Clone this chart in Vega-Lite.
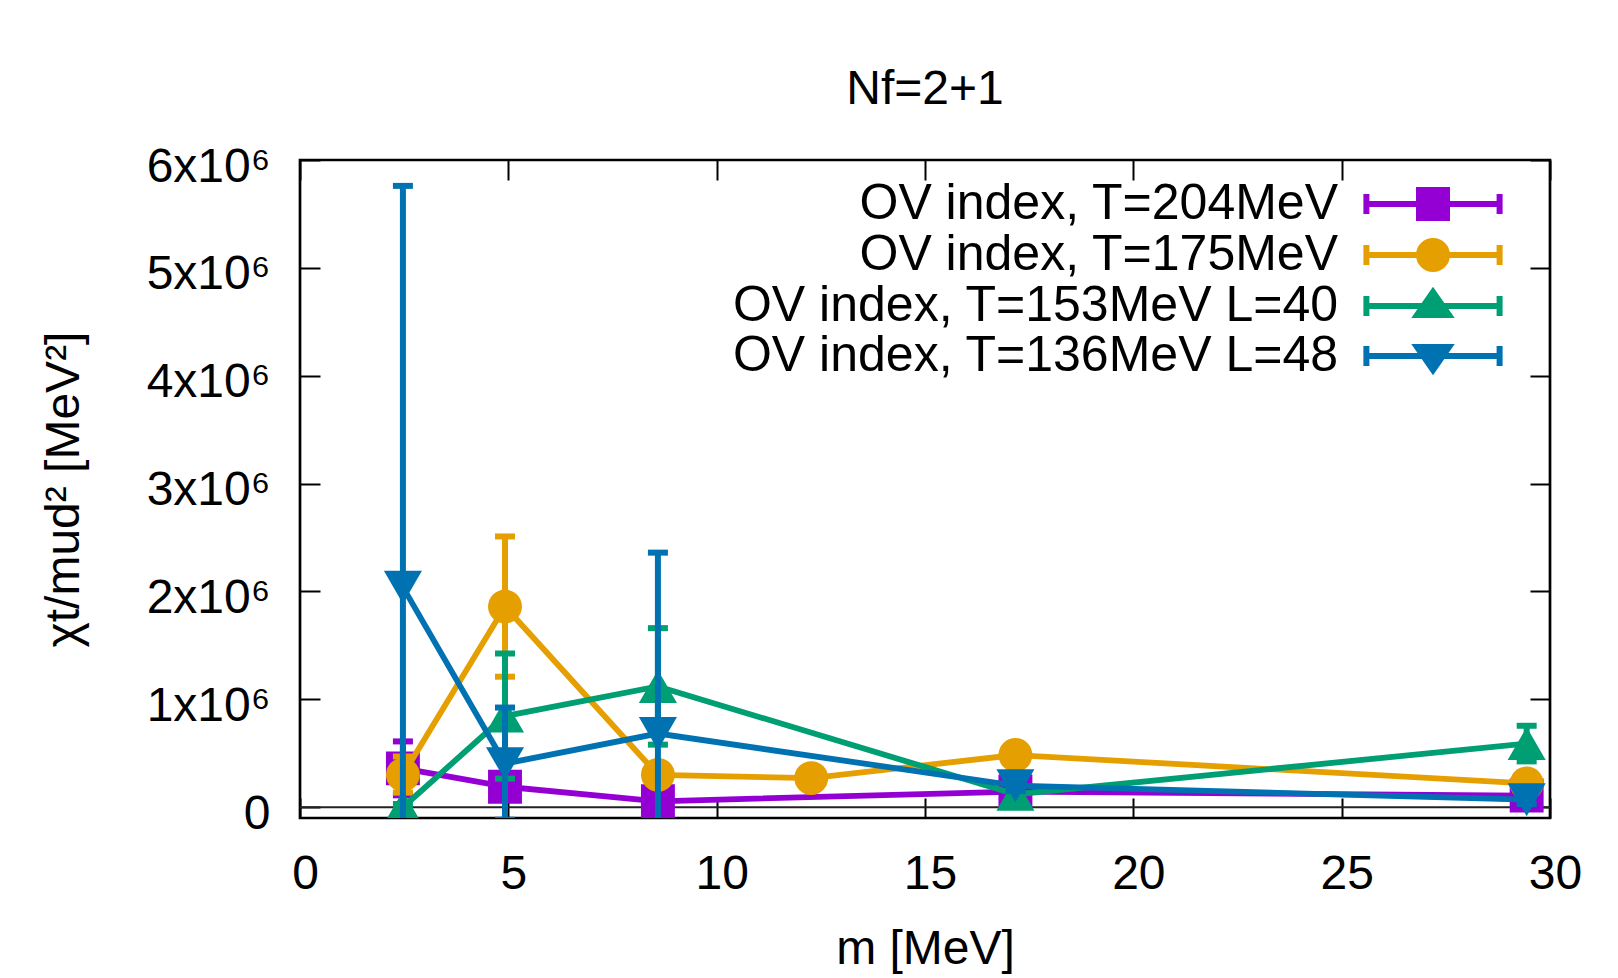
{
  "$schema": "https://vega.github.io/schema/vega-lite/v6.json",
  "width": 1250,
  "height": 658,
  "autosize": {"type": "none"},
  "padding": {"left": 300, "top": 160, "right": 68, "bottom": 160},
  "background": "white",
  "config": {
    "font": "Liberation Sans",
    "view": {"stroke": "black", "strokeWidth": 2.7},
    "axis": {"labelFont": "Liberation Sans", "titleFont": "Liberation Sans"}
  },
  "title": {"text": "Nf=2+1", "fontSize": 48, "fontWeight": "normal", "font": "Liberation Sans", "color": "black", "anchor": "middle", "offset": 29},
  "resolve": {"axis": {"x": "independent", "y": "independent"}},
  "layer": [
    {
      "data": {"values": [{}]},
      "mark": {"type": "rule", "color": "#222222", "strokeWidth": 2},
      "encoding": {
        "x": {"datum": 0, "type": "quantitative", "scale": {"domain": [0, 30], "nice": false, "zero": false},
          "axis": {"orient": "top", "values": [0, 5, 10, 15, 20, 25, 30], "labels": false, "title": null, "domain": false, "grid": false, "tickSize": -20, "tickWidth": 2, "tickColor": "black"}},
        "x2": {"datum": 30},
        "y": {"datum": 0, "type": "quantitative", "scale": {"domain": [-100000, 6000000], "nice": false, "zero": false},
          "axis": {"orient": "right", "values": [0, 1000000, 2000000, 3000000, 4000000, 5000000, 6000000], "labels": false, "title": null, "domain": false, "grid": false, "tickSize": -20, "tickWidth": 2, "tickColor": "black"}}
      }
    },
    {
      "data": {"values": [
        {"s": "OV index, T=204MeV", "m": 2.47, "chi": 360000, "lo": 110000, "hi": 610000},
        {"s": "OV index, T=204MeV", "m": 4.92, "chi": 190000, "lo": 130000, "hi": 250000},
        {"s": "OV index, T=204MeV", "m": 8.59, "chi": 55000, "lo": 5000, "hi": 105000},
        {"s": "OV index, T=204MeV", "m": 17.17, "chi": 145000, "lo": 105000, "hi": 185000},
        {"s": "OV index, T=204MeV", "m": 29.44, "chi": 108000, "lo": 68000, "hi": 148000},
        {"s": "OV index, T=175MeV", "m": 2.47, "chi": 300000, "lo": 135000, "hi": 470000},
        {"s": "OV index, T=175MeV", "m": 4.92, "chi": 1860000, "lo": 1210000, "hi": 2510000},
        {"s": "OV index, T=175MeV", "m": 8.59, "chi": 300000, "lo": 250000, "hi": 350000},
        {"s": "OV index, T=175MeV", "m": 12.27, "chi": 270000, "lo": 230000, "hi": 310000},
        {"s": "OV index, T=175MeV", "m": 17.17, "chi": 484000, "lo": 440000, "hi": 530000},
        {"s": "OV index, T=175MeV", "m": 29.44, "chi": 220000, "lo": 175000, "hi": 265000},
        {"s": "OV index, T=153MeV L=40", "m": 2.47, "chi": 0, "lo": -30000, "hi": 30000},
        {"s": "OV index, T=153MeV L=40", "m": 4.92, "chi": 845000, "lo": 265000, "hi": 1425000},
        {"s": "OV index, T=153MeV L=40", "m": 8.59, "chi": 1120000, "lo": 580000, "hi": 1660000},
        {"s": "OV index, T=153MeV L=40", "m": 17.17, "chi": 120000, "lo": 70000, "hi": 170000},
        {"s": "OV index, T=153MeV L=40", "m": 29.44, "chi": 590000, "lo": 425000, "hi": 755000},
        {"s": "OV index, T=136MeV L=48", "m": 2.47, "chi": 2040000, "lo": -1680000, "hi": 5760000},
        {"s": "OV index, T=136MeV L=48", "m": 4.92, "chi": 404000, "lo": -116000, "hi": 924000},
        {"s": "OV index, T=136MeV L=48", "m": 8.59, "chi": 683000, "lo": -1000000, "hi": 2360000},
        {"s": "OV index, T=136MeV L=48", "m": 17.17, "chi": 200000, "lo": 150000, "hi": 250000},
        {"s": "OV index, T=136MeV L=48", "m": 29.44, "chi": 70000, "lo": 30000, "hi": 110000}
      ]},
      "encoding": {
        "x": {"field": "m", "type": "quantitative", "scale": {"domain": [0, 30], "nice": false, "zero": false},
          "axis": {"orient": "bottom", "values": [0, 5, 10, 15, 20, 25, 30], "title": "m [MeV]", "domain": false, "grid": false, "tickSize": -20, "tickWidth": 2, "tickColor": "black", "labelFontSize": 48, "labelColor": "black", "labelPadding": 52, "labelOffset": 5, "labelFlush": false, "titleFontSize": 48, "titleFontWeight": "normal", "titleColor": "black", "titlePadding": 27}},
        "y": {"field": "chi", "type": "quantitative", "scale": {"domain": [-100000, 6000000], "nice": false, "zero": false},
          "axis": {"orient": "left", "values": [0, 1000000, 2000000, 3000000, 4000000, 5000000, 6000000], "labelExpr": "datum.value == 0 ? '0' : format(datum.value / 1000000, 'd') + 'x10⁶'", "title": "χt/mud² [MeV²]", "domain": false, "grid": false, "tickSize": -20, "tickWidth": 2, "tickColor": "black", "labelFontSize": 48, "labelColor": "black", "labelPadding": 50, "labelOffset": 7, "titleFontSize": 48, "titleFontWeight": "normal", "titleColor": "black", "titlePadding": 58}},
        "color": {"field": "s", "type": "nominal",
          "scale": {"domain": ["OV index, T=204MeV", "OV index, T=175MeV", "OV index, T=153MeV L=40", "OV index, T=136MeV L=48"], "range": ["#9400d3", "#e69f00", "#009e73", "#0072b2"]},
          "legend": {"orient": "none", "legendX": 1108, "legendY": 19, "title": null, "padding": 0, "rowPadding": -9.7, "symbolSize": 1600, "symbolStrokeWidth": 6, "labelFont": "Liberation Sans", "labelFontSize": 50, "labelColor": "black", "labelAlign": "right", "labelOffset": -120, "labelLimit": 0}}
      },
      "layer": [
        {
          "transform": [{"filter": "false"}],
          "mark": {"type": "point", "filled": true, "strokeWidth": 6, "opacity": 1},
          "encoding": {
            "shape": {"field": "s", "type": "nominal",
              "scale": {"domain": ["OV index, T=204MeV", "OV index, T=175MeV", "OV index, T=153MeV L=40", "OV index, T=136MeV L=48"],
                "range": ["M-3.45,0H3.45M-3.33,-0.5V0.5M3.33,-0.5V0.5M-0.7,-0.7H0.7V0.7H-0.7Z", "M-3.45,0H3.45M-3.33,-0.5V0.5M3.33,-0.5V0.5M-0.7,0A0.7,0.7,0,1,0,0.7,0A0.7,0.7,0,1,0,-0.7,0Z", "M-3.45,0H3.45M-3.33,-0.5V0.5M3.33,-0.5V0.5M0,-0.7L0.8,0.45L-0.8,0.45Z", "M-3.45,0H3.45M-3.33,-0.5V0.5M3.33,-0.5V0.5M0,0.7L0.8,-0.45L-0.8,-0.45Z"]},
              "legend": {"orient": "none", "legendX": 1108, "legendY": 19, "title": null, "padding": 0, "rowPadding": -9.7, "symbolSize": 1600, "symbolStrokeWidth": 6, "labelFont": "Liberation Sans", "labelFontSize": 50, "labelColor": "black", "labelAlign": "right", "labelOffset": -120, "labelLimit": 0}},
            "stroke": {"field": "s", "type": "nominal",
              "scale": {"domain": ["OV index, T=204MeV", "OV index, T=175MeV", "OV index, T=153MeV L=40", "OV index, T=136MeV L=48"], "range": ["#9400d3", "#e69f00", "#009e73", "#0072b2"]},
              "legend": {"orient": "none", "legendX": 1108, "legendY": 19, "title": null, "padding": 0, "rowPadding": -9.7, "symbolSize": 1600, "symbolStrokeWidth": 6, "labelFont": "Liberation Sans", "labelFontSize": 50, "labelColor": "black", "labelAlign": "right", "labelOffset": -120, "labelLimit": 0}}
          }
        },
        {
          "transform": [{"filter": {"field": "s", "equal": "OV index, T=204MeV"}}],
          "layer": [
            {"mark": {"type": "line", "strokeWidth": 5.8, "clip": true}},
            {"mark": {"type": "rule", "strokeWidth": 6, "clip": true}, "encoding": {"y": {"field": "lo", "type": "quantitative"}, "y2": {"field": "hi"}}},
            {"mark": {"type": "tick", "orient": "horizontal", "size": 20, "thickness": 6, "opacity": 1, "clip": true}, "encoding": {"y": {"field": "lo", "type": "quantitative"}}},
            {"mark": {"type": "tick", "orient": "horizontal", "size": 20, "thickness": 6, "opacity": 1, "clip": true}, "encoding": {"y": {"field": "hi", "type": "quantitative"}}},
            {"mark": {"type": "point", "filled": true, "opacity": 1, "clip": true, "shape": "square", "size": 1150}}
          ]
        },
        {
          "transform": [{"filter": {"field": "s", "equal": "OV index, T=175MeV"}}],
          "layer": [
            {"mark": {"type": "line", "strokeWidth": 5.8, "clip": true}},
            {"mark": {"type": "rule", "strokeWidth": 6, "clip": true}, "encoding": {"y": {"field": "lo", "type": "quantitative"}, "y2": {"field": "hi"}}},
            {"mark": {"type": "tick", "orient": "horizontal", "size": 20, "thickness": 6, "opacity": 1, "clip": true}, "encoding": {"y": {"field": "lo", "type": "quantitative"}}},
            {"mark": {"type": "tick", "orient": "horizontal", "size": 20, "thickness": 6, "opacity": 1, "clip": true}, "encoding": {"y": {"field": "hi", "type": "quantitative"}}},
            {"mark": {"type": "point", "filled": true, "opacity": 1, "clip": true, "shape": "circle", "size": 1150}}
          ]
        },
        {
          "transform": [{"filter": {"field": "s", "equal": "OV index, T=153MeV L=40"}}],
          "layer": [
            {"mark": {"type": "line", "strokeWidth": 5.8, "clip": true}},
            {"mark": {"type": "rule", "strokeWidth": 6, "clip": true}, "encoding": {"y": {"field": "lo", "type": "quantitative"}, "y2": {"field": "hi"}}},
            {"mark": {"type": "tick", "orient": "horizontal", "size": 20, "thickness": 6, "opacity": 1, "clip": true}, "encoding": {"y": {"field": "lo", "type": "quantitative"}}},
            {"mark": {"type": "tick", "orient": "horizontal", "size": 20, "thickness": 6, "opacity": 1, "clip": true}, "encoding": {"y": {"field": "hi", "type": "quantitative"}}},
            {"mark": {"type": "point", "filled": true, "opacity": 1, "clip": true, "shape": "triangle-up", "size": 1450}}
          ]
        },
        {
          "transform": [{"filter": {"field": "s", "equal": "OV index, T=136MeV L=48"}}],
          "layer": [
            {"mark": {"type": "line", "strokeWidth": 5.8, "clip": true}},
            {"mark": {"type": "rule", "strokeWidth": 6, "clip": true}, "encoding": {"y": {"field": "lo", "type": "quantitative"}, "y2": {"field": "hi"}}},
            {"mark": {"type": "tick", "orient": "horizontal", "size": 20, "thickness": 6, "opacity": 1, "clip": true}, "encoding": {"y": {"field": "lo", "type": "quantitative"}}},
            {"mark": {"type": "tick", "orient": "horizontal", "size": 20, "thickness": 6, "opacity": 1, "clip": true}, "encoding": {"y": {"field": "hi", "type": "quantitative"}}},
            {"mark": {"type": "point", "filled": true, "opacity": 1, "clip": true, "shape": "triangle-down", "size": 1450}}
          ]
        }
      ]
    }
  ]
}
